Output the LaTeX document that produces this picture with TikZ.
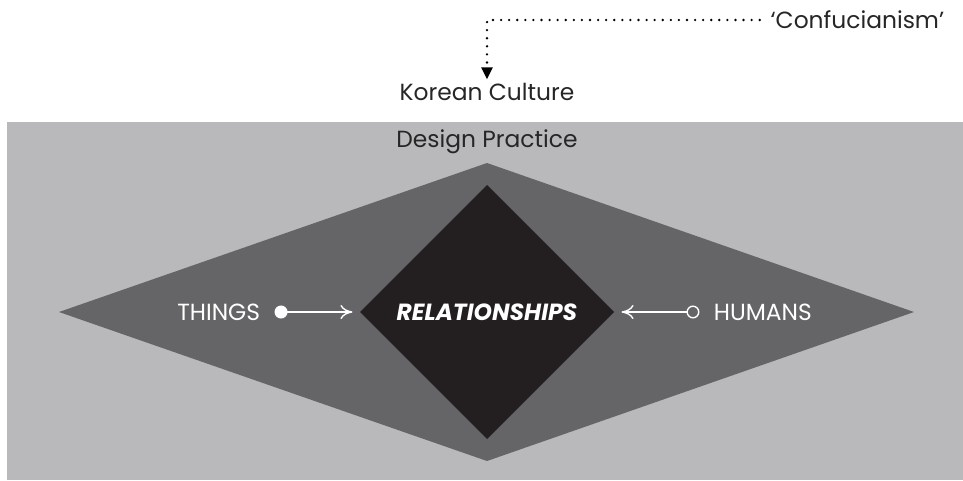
\documentclass[tikz,border=0pt]{standalone}
\usepackage{fontspec}
\setmainfont{Poppins}
\usetikzlibrary{arrows.meta}
\definecolor{fieldgray}{HTML}{B9B9BC}
\definecolor{kitegray}{HTML}{656568}
\definecolor{coregray}{HTML}{231F20}

\begin{document}
\begin{tikzpicture}[x=0.02cm, y=-0.02cm, every node/.style={font=\fontsize{13.3}{15}\selectfont, text=black!85, inner sep=2pt}, >={To[length=2.4mm, width=2.8mm]}]
	\useasboundingbox (0,0) rectangle (963,480);
	\fill[fieldgray] (7,122) rectangle (963,480);
	\fill[kitegray] (59,312) -- (487,163) -- (914,312) -- (487,461) -- cycle;
	\fill[coregray] (360,312) -- (487,185) -- (614,312) -- (487,439) -- cycle;
	\node (korean) at (487,92) {Korean Culture};
	\node[anchor=east] (confucianism) at (948,20) {‘Confucianism’};
	\node (design) at (487,142) {Design Practice};
	\node[text=white, font=\fontsize{13.3}{15}\selectfont\bfseries\itshape] (relations) at (487,312) {RELATIONSHIPS};
	\node[text=white, anchor=east] (things) at (264,312) {THINGS};
	\node[text=white, anchor=west] (humans) at (710,312) {HUMANS};
	\draw[black, line width=1.5pt, dash pattern=on 0pt off 4.6pt, line cap=round, shorten <=4pt, -{Triangle[length=2.4mm, width=2.2mm, sep=0pt]}] (confucianism.west) -| (korean.north);
	\draw[white, thick, {Circle[length=2.6mm]}->, shorten <=6pt, shorten >=23pt] (things.east) -- (relations.west);
	\draw[white, thick, {Circle[open, length=2.6mm]}->, shorten <=6pt, shorten >=23pt] (humans.west) -- (relations.east);
\end{tikzpicture}
\end{document}
